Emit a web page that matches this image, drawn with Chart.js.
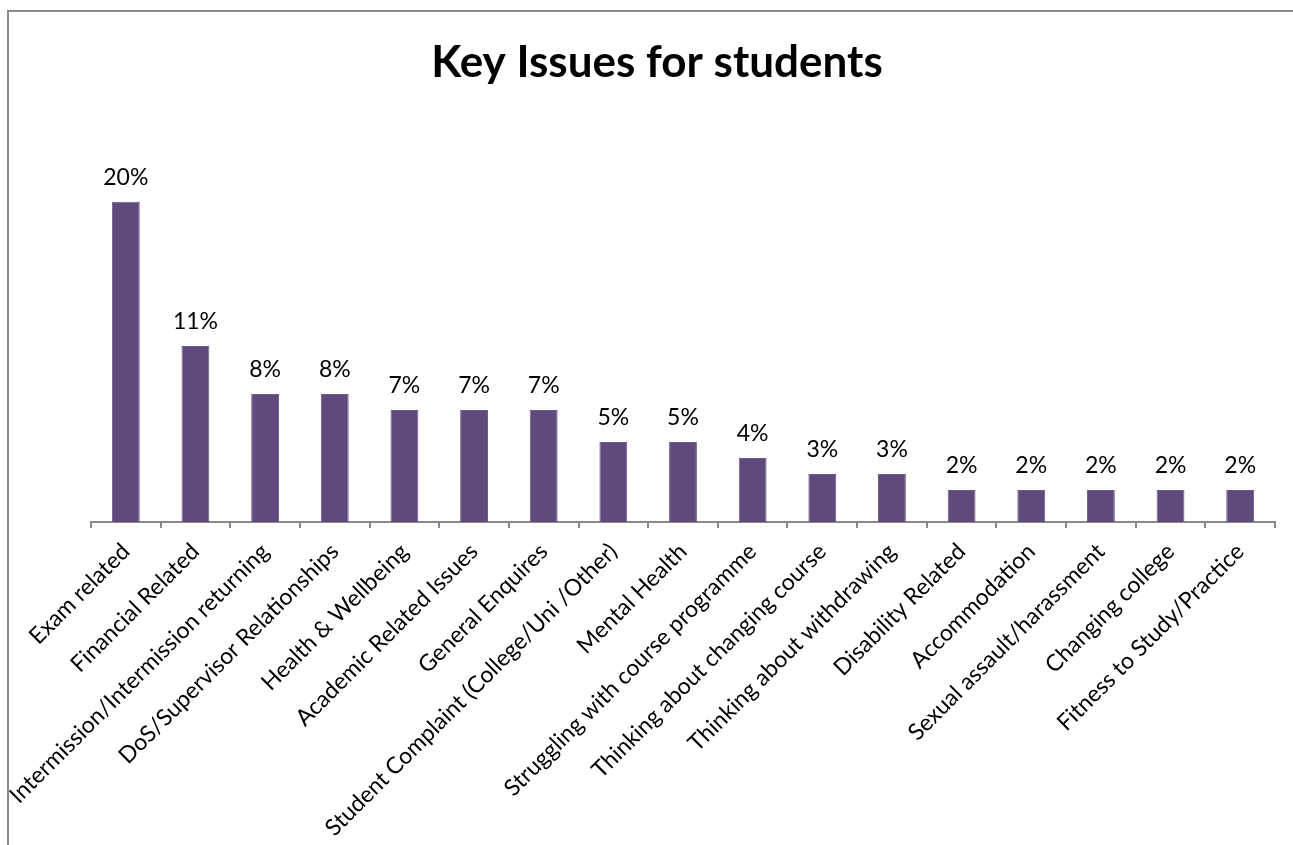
<!DOCTYPE html>
<html>
<head>
<meta charset="utf-8">
<script src="https://cdn.jsdelivr.net/npm/chart.js@4.4.0/dist/chart.umd.min.js"></script>
<style>
  html, body { margin: 0; padding: 0; background: #fff; overflow: hidden; }
  #wrap { width: 1293px; height: 845px; }
</style>
</head>
<body>
<div id="wrap"><canvas id="myChart" width="1293" height="845"></canvas></div>
<script>
// 학생 주요 이슈 (비율, %)
const issues = [
  'Exam related',
  'Financial Related',
  'Intermission/Intermission returning',
  'DoS/Supervisor Relationships',
  'Health & Wellbeing',
  'Academic Related Issues',
  'General Enquires',
  'Student Complaint (College/Uni /Other)',
  'Mental Health',
  'Struggling with course programme',
  'Thinking about changing course',
  'Thinking about withdrawing',
  'Disability Related',
  'Accommodation',
  'Sexual assault/harassment',
  'Changing college',
  'Fitness to Study/Practice'
];
const shares = [20, 11, 8, 8, 7, 7, 7, 5, 5, 4, 3, 3, 2, 2, 2, 2, 2];

const FONT = 'Lato, "Open Sans", sans-serif';

// 바깥 테두리 (왼쪽, 위쪽만 보임)
const frame = {
  id: 'frame',
  beforeDraw(chart) {
    const c = chart.ctx;
    c.save();
    c.fillStyle = '#fff';
    c.fillRect(0, 0, chart.width, chart.height);
    c.fillStyle = '#8a8a8a';
    c.fillRect(7, 10, 2, chart.height - 10);
    c.fillRect(7, 10, chart.width - 7, 2);
    c.restore();
  }
};

// 막대 위 값 표시
const valueLabels = {
  id: 'valueLabels',
  afterDatasetsDraw(chart) {
    const c = chart.ctx;
    const meta = chart.getDatasetMeta(0);
    c.save();
    c.font = '23px ' + FONT;
    c.fillStyle = '#000';
    c.textAlign = 'center';
    c.textBaseline = 'alphabetic';
    meta.data.forEach(function(bar, i) {
      c.fillText(shares[i] + '%', bar.x, bar.y - 17);
    });
    c.restore();
  }
};

new Chart(document.getElementById('myChart'), {
  type: 'bar',
  data: {
    labels: issues,
    datasets: [{
      data: shares,
      backgroundColor: '#604a7b',
      borderColor: '#6f5a8a',
      borderWidth: 1,
      categoryPercentage: 1,
      barPercentage: 0.4
    }]
  },
  options: {
    responsive: false,
    animation: false,
    layout: { padding: { left: 39, right: 18, top: 0, bottom: 0 } },
    plugins: {
      legend: { display: false },
      tooltip: { enabled: false },
      title: {
        display: true,
        text: 'Key Issues for students',
        color: '#000',
        font: { family: FONT, size: 44, weight: 'bold', lineHeight: 1.2 },
        padding: { top: 36, bottom: 81 }
      }
    },
    scales: {
      x: {
        offset: true,
        border: { display: true, color: '#8a8a8a', width: 2 },
        grid: {
          display: true,
          offset: true,
          drawOnChartArea: false,
          drawTicks: true,
          tickLength: 6,
          color: '#8a8a8a',
          lineWidth: 2
        },
        ticks: {
          color: '#000',
          font: { family: FONT, size: 23 },
          minRotation: 45,
          maxRotation: 45,
          autoSkip: false,
          padding: 10
        },
        afterFit(s) {
          s.height = 323;
          s.paddingLeft = 0;
          s.paddingRight = 0;
        }
      },
      // 세로축은 보이지 않음 (자리만 차지)
      y: {
        display: true,
        min: 0,
        max: 22,
        border: { display: false },
        grid: { display: false },
        ticks: { display: false },
        afterFit(s) {
          s.width = 52;
        }
      }
    }
  },
  plugins: [frame, valueLabels]
});
</script>
</body>
</html>
